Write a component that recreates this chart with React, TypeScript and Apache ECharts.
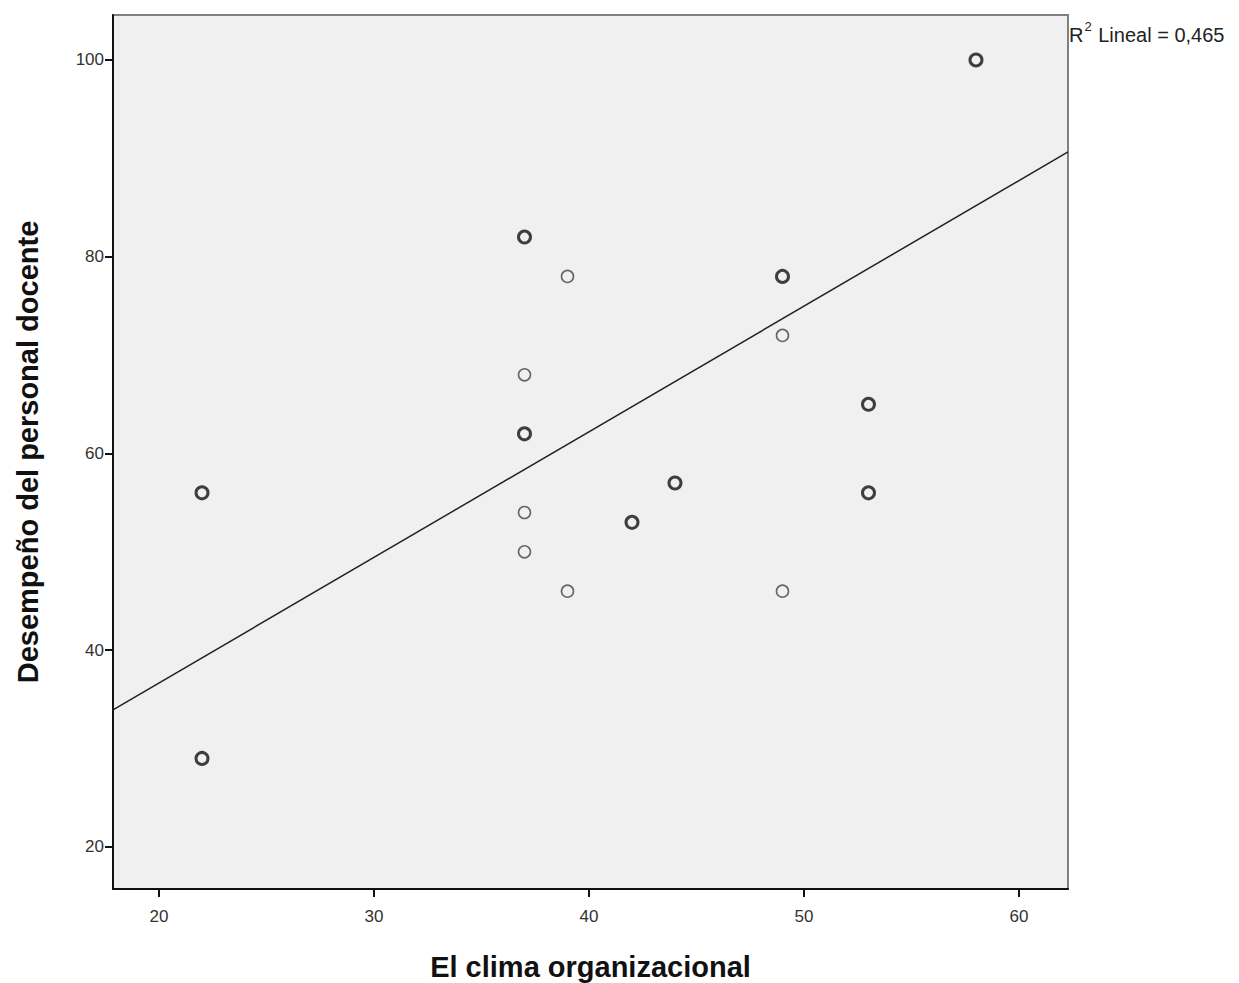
import React, { useEffect, useRef } from "react";
import * as echarts from "echarts";

const clima = [22, 22, 37, 39, 37, 37, 37, 37, 39, 42, 44, 49, 49, 49, 53, 53, 58];
const desempeno = [56, 29, 82, 78, 68, 62, 54, 50, 46, 53, 57, 78, 72, 46, 65, 56, 100];
const repeats = [2, 2, 2, 1, 1, 2, 1, 1, 1, 2, 2, 2, 1, 1, 2, 2, 2];
const xTicks = [20, 30, 40, 50, 60];
const yTicks = [20, 40, 60, 80, 100];
const fitIntercept = 11.14;
const fitSlope = 1.2767;
const X_MIN = 17.86;
const X_MAX = 62.28;
const Y_MIN = 15.73;
const Y_MAX = 104.57;

export default function App() {
  const ref = useRef<HTMLDivElement>(null);
  useEffect(() => {
    document.body.style.margin = "0";
    const chart = echarts.init(ref.current!, null, { renderer: "svg" });
    const single: number[][] = [];
    const multi: number[][] = [];
    clima.forEach((x, i) => {
      (repeats[i] > 1 ? multi : single).push([x, desempeno[i]]);
    });
    const fit = [
      [X_MIN, fitIntercept + fitSlope * X_MIN],
      [X_MAX, fitIntercept + fitSlope * X_MAX],
    ];
    const font = "Liberation Sans, Arial, sans-serif";
    chart.setOption({
      animation: false,
      backgroundColor: "#fff",
      grid: {
        left: 113,
        right: 171,
        top: 15,
        bottom: 94,
        outerBoundsMode: "none",
        containLabel: false,
        show: true,
        backgroundColor: "#f0f0f0",
        borderColor: "#808080",
        borderWidth: 2,
      },
      xAxis: {
        type: "value",
        min: X_MIN,
        max: X_MAX,
        name: "El clima organizacional",
        nameLocation: "middle",
        nameGap: 63,
        nameTextStyle: { fontFamily: font, fontWeight: "bold", fontSize: 29, color: "#111" },
        axisLine: { show: true, onZero: false, lineStyle: { color: "#111", width: 2 } },
        axisTick: { show: true, customValues: xTicks, length: 8, lineStyle: { color: "#111", width: 2 } },
        axisLabel: { customValues: xTicks, fontFamily: font, fontSize: 17, color: "#333", margin: 19 },
        splitLine: { show: false },
      },
      yAxis: {
        type: "value",
        min: Y_MIN,
        max: Y_MAX,
        name: "Desempeño del personal docente",
        nameLocation: "middle",
        nameGap: 71,
        nameTextStyle: { fontFamily: font, fontWeight: "bold", fontSize: 29, color: "#111" },
        axisLine: { show: true, onZero: false, lineStyle: { color: "#111", width: 2 } },
        axisTick: { show: true, customValues: yTicks, length: 8, lineStyle: { color: "#111", width: 2 } },
        axisLabel: { customValues: yTicks, fontFamily: font, fontSize: 17, color: "#333", margin: 9 },
        splitLine: { show: false },
      },
      graphic: [
        {
          type: "text",
          left: 1069,
          top: 20,
          style: {
            text: "{r|R}{s|2}{r| Lineal = 0,465}",
            rich: {
              r: { fontFamily: font, fontSize: 20, fill: "#222", verticalAlign: "bottom", lineHeight: 25 },
              s: { fontFamily: font, fontSize: 13, fill: "#222", verticalAlign: "top", lineHeight: 25, padding: [0, 1, 9, 1] },
            },
          },
        },
      ],
      series: [
        {
          type: "line",
          data: fit,
          showSymbol: false,
          lineStyle: { color: "#222", width: 1.5 },
          silent: true,
          z: 2,
        },
        {
          type: "scatter",
          data: single,
          symbol: "circle",
          symbolSize: 12,
          itemStyle: { color: "rgba(0,0,0,0)", borderColor: "#444", borderWidth: 1.6 },
          z: 3,
        },
        {
          type: "scatter",
          data: multi,
          symbol: "circle",
          symbolSize: 12,
          itemStyle: { color: "rgba(0,0,0,0)", borderColor: "#111", borderWidth: 3 },
          z: 3,
        },
      ],
    });
    return () => chart.dispose();
  }, []);
  return <div ref={ref} style={{ width: 1239, height: 983 }} />;
}
